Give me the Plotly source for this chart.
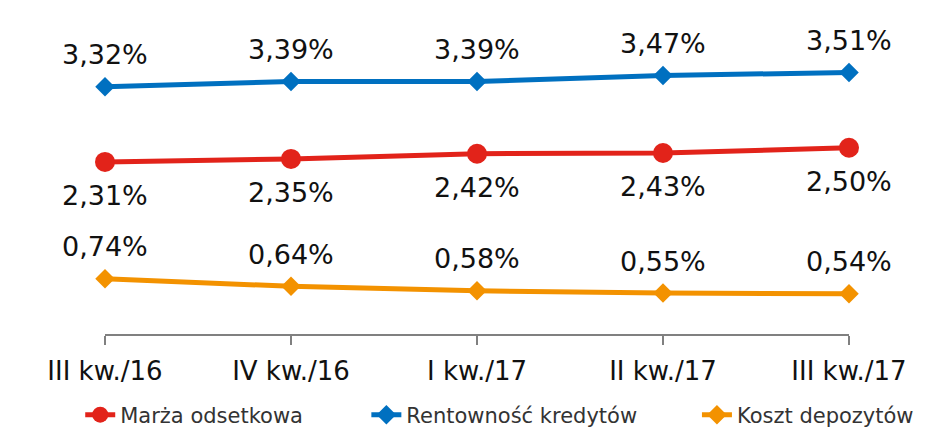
import plotly.graph_objects as go

categories = ["III kw./16", "IV kw./16", "I kw./17", "II kw./17", "III kw./17"]
marza = [2.31, 2.35, 2.42, 2.43, 2.50]
rentownosc = [3.32, 3.39, 3.39, 3.47, 3.51]
koszt = [0.74, 0.64, 0.58, 0.55, 0.54]

series = [
    ("Marża odsetkowa", marza, "#E2231A", "circle", 20, -34, "legend", 0.078),
    ("Rentowność kredytów", rentownosc, "#0070C0", "diamond", 15, 32, "legend2", 0.387),
    ("Koszt depozytów", koszt, "#F39200", "diamond", 15, 32, "legend3", 0.744),
]

FONT = "DejaVu Sans"
xs = list(range(len(categories)))

fig = go.Figure()
legends = {}
for name, vals, color, sym, msize, shift, leg, lx in series:
    fig.add_trace(go.Scatter(
        x=xs, y=vals, name=name, mode="lines+markers",
        line=dict(color=color, width=5),
        marker=dict(symbol=sym, size=msize, color=color),
        cliponaxis=False, legend=leg,
    ))
    legends[leg] = dict(
        orientation="h", xref="container", yref="container",
        x=lx, xanchor="left", y=0.049, yanchor="middle",
        font=dict(family=FONT, size=21, color="#333333"),
        itemwidth=30, bgcolor="rgba(0,0,0,0)",
    )
    for xi, v in zip(xs, vals):
        fig.add_annotation(
            x=xi, y=v, text=f"{v:.2f}%".replace(".", ","),
            showarrow=False, yshift=shift,
            font=dict(family=FONT, size=27, color="#111111"),
        )

# page body has an 8px margin, so the figure is laid out 8px up/left
fig.update_layout(
    width=926, height=428,
    margin=dict(l=97, r=85, t=28, b=102, autoexpand=False),
    paper_bgcolor="white", plot_bgcolor="white",
    font=dict(family=FONT, color="#222222"),
    showlegend=True,
    xaxis=dict(
        range=[0, 4], tickmode="array", tickvals=xs, ticktext=categories,
        showgrid=False, zeroline=False, showline=True, linecolor="#808080",
        linewidth=2, ticks="outside", ticklen=9, tickwidth=2, tickcolor="#808080",
        tickfont=dict(family=FONT, size=26, color="#111111"),
        ticklabelstandoff=4,
    ),
    yaxis=dict(
        range=[0, 4], visible=False, showgrid=False, zeroline=False,
    ),
    **legends,
)

fig.write_html("out.html")
